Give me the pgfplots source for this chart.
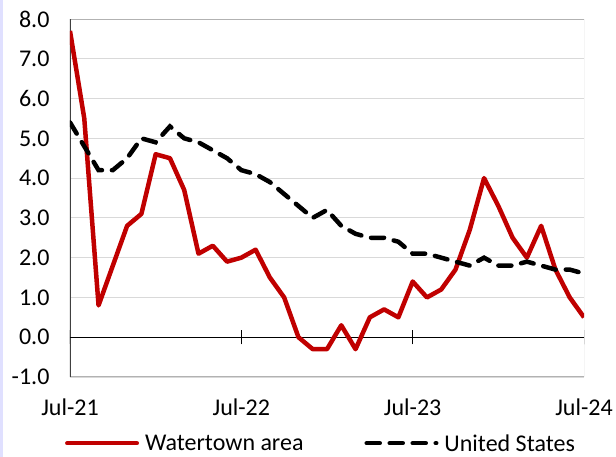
\documentclass[border=0pt]{standalone}
\usepackage{fontspec}
\setmainfont{Carlito}
\usepackage{pgfplots}
\pgfplotsset{compat=1.18}
\definecolor{wred}{HTML}{C00000}
\begin{document}
\begin{tikzpicture}
\useasboundingbox (0,0) rectangle (616pt,457pt);
\fill[blue!12] (0,0) rectangle (3pt,457pt);
\begin{axis}[
  at={(70pt,80pt)}, anchor=south west,
  scale only axis, width=514pt, height=358pt,
  xmin=0, xmax=36, ymin=-1, ymax=8,
  ytick={-1,0,...,8},
  xtick={0,12,24,36},
  xticklabels={Jul-21,Jul-22,Jul-23,Jul-24},
  axis line style={draw=none},
  major tick length=0pt,
  ymajorgrids,
  grid style={draw=black!15, line width=0.9pt},
  /pgf/number format/assume math mode=true,
  yticklabel style={/pgf/number format/fixed, /pgf/number format/fixed zerofill, /pgf/number format/precision=1, xshift=-17pt},
  ticklabel style={font=\fontsize{24}{28}\selectfont},
  xticklabel style={yshift=-18pt},
  legend columns=2,
  legend style={at={(-0.01,-0.185)}, anchor=west, draw=none, fill=none,
    font=\fontsize{24}{28}\selectfont, inner sep=0pt,
    nodes={text depth=0pt},
    /tikz/every odd column/.append style={column sep=4pt},
    /tikz/every even column/.append style={column sep=59pt}},
  legend cell align=left,
  legend image code/.code={\draw[#1, line cap=round] (0pt,0pt) -- (69.5pt,0pt);},
]
\draw[black!30, line width=1pt] (rel axis cs:0,1) -- (rel axis cs:1,1) -- (rel axis cs:1,0) -- (rel axis cs:0,0);
\draw[black!75, line width=1.3pt] (rel axis cs:0,0) -- (rel axis cs:0,1);
\draw[black, line width=1pt] (axis cs:0,0) -- (axis cs:36,0);
\draw[black, line width=1pt] (axis cs:0,-0.18) -- (axis cs:0,0.18);
\draw[black, line width=1pt] (axis cs:12,-0.18) -- (axis cs:12,0.18);
\draw[black, line width=1pt] (axis cs:24,-0.18) -- (axis cs:24,0.18);
\draw[black, line width=1pt] (axis cs:36,-0.18) -- (axis cs:36,0.18);
\addplot[wred, line width=4.5pt, line join=round] coordinates {
(0,7.7)(1,5.5)(2,0.8)(3,1.8)(4,2.8)(5,3.1)(6,4.6)(7,4.5)(8,3.7)(9,2.1)
(10,2.3)(11,1.9)(12,2.0)(13,2.2)(14,1.5)(15,1.0)(16,0.0)(17,-0.3)(18,-0.3)(19,0.3)
(20,-0.3)(21,0.5)(22,0.7)(23,0.5)(24,1.4)(25,1.0)(26,1.2)(27,1.7)(28,2.7)(29,4.0)
(30,3.3)(31,2.5)(32,2.0)(33,2.8)(34,1.7)(35,1.0)(36,0.5)};
\addlegendentry{Watertown area}
\addplot[black, line width=4.5pt, line cap=round, dash pattern=on 13pt off 10pt] coordinates {
(0,5.4)(1,4.8)(2,4.2)(3,4.2)(4,4.5)(5,5.0)(6,4.9)(7,5.3)(8,5.0)(9,4.9)
(10,4.7)(11,4.5)(12,4.2)(13,4.1)(14,3.9)(15,3.6)(16,3.3)(17,3.0)(18,3.2)(19,2.8)
(20,2.6)(21,2.5)(22,2.5)(23,2.4)(24,2.1)(25,2.1)(26,2.0)(27,1.9)(28,1.8)(29,2.0)
(30,1.8)(31,1.8)(32,1.9)(33,1.8)(34,1.7)(35,1.7)(36,1.6)};
\addlegendentry{United States}
\end{axis}
\end{tikzpicture}
\end{document}
